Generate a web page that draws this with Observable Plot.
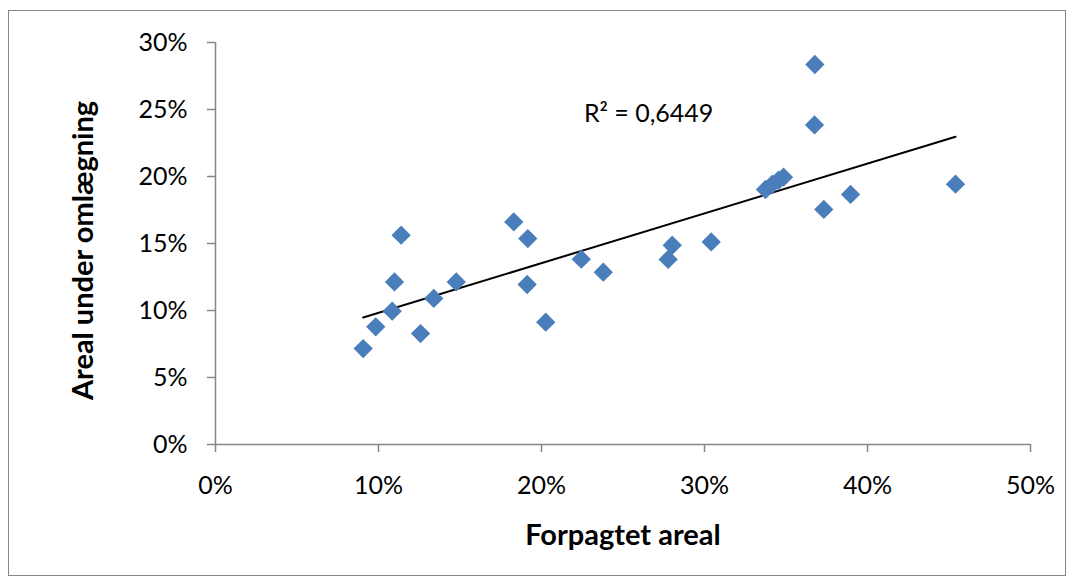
<!DOCTYPE html>
<html>
<head>
<meta charset="utf-8">
<script src="https://cdn.jsdelivr.net/npm/d3@7"></script>
<script src="https://cdn.jsdelivr.net/npm/@observablehq/plot@0.6"></script>
<style>
  html, body { margin: 0; padding: 0; background: #fff; }
  #wrap { position: relative; width: 1074px; height: 579px; overflow: hidden; }
  #border { position: absolute; left: 8px; top: 10px; width: 1058px; height: 566px; border: 1px solid #868686; box-sizing: border-box; }
  #chart { position: absolute; left: 0; top: 0; }
</style>
</head>
<body>
<div id="wrap"><div id="border"></div><div id="chart"></div></div>
<script>
// Forpagtet areal (x) and Areal under omlægning (y), as fractions
const forpagtet = [0.0906, 0.0983, 0.1084, 0.1098, 0.1139, 0.1258, 0.1339, 0.1477, 0.1830, 0.1916, 0.1912, 0.2026, 0.2244, 0.2379, 0.2777, 0.2802, 0.3041, 0.3374, 0.3417, 0.3454, 0.3485, 0.3677, 0.3675, 0.3732, 0.3896, 0.4540];
const omlaegning = [0.0716, 0.0878, 0.0995, 0.1213, 0.1562, 0.0828, 0.1090, 0.1213, 0.1661, 0.1537, 0.1194, 0.0913, 0.1383, 0.1286, 0.1381, 0.1487, 0.1512, 0.1903, 0.1943, 0.1972, 0.1995, 0.2836, 0.2385, 0.1754, 0.1866, 0.1943];
const xTicks = [0, 0.1, 0.2, 0.3, 0.4, 0.5];
const yTicks = [0, 0.05, 0.1, 0.15, 0.2, 0.25, 0.3];
const xTitle = "Forpagtet areal";
const yTitle = "Areal under omlægning";
const r2Label = ["R² = 0,6449"];
const r2Pos = {x: 0.226, y: 0.247};

const data = forpagtet.map((x, i) => ({x, y: omlaegning[i]}));
const pct = d3.format(".0%");
const axisGray = "#868686";

const chart = Plot.plot({
  width: 1074,
  height: 579,
  marginLeft: 215,
  marginRight: 44,
  marginTop: 42,
  marginBottom: 135,
  style: {fontFamily: "Lato, 'Open Sans', sans-serif", fontSize: "25px", color: "#000", background: "transparent"},
  x: {domain: [0, 0.5]},
  y: {domain: [0, 0.3]},
  marks: [
    Plot.ruleY([0], {stroke: axisGray, strokeWidth: 1.5}),
    Plot.ruleX([0], {stroke: axisGray, strokeWidth: 1.5}),
    Plot.axisX({ticks: xTicks, tickFormat: pct, tickSize: 8, tickPadding: 24, stroke: axisGray, strokeWidth: 1.5, fill: "#000", label: null, fontSize: 25}),
    Plot.axisY({ticks: yTicks, tickFormat: pct, tickSize: 8, tickPadding: 20, stroke: axisGray, strokeWidth: 1.5, fill: "#000", label: null, fontSize: 25}),
    Plot.linearRegressionY(data, {x: "x", y: "y", ci: 0, stroke: "#000", strokeWidth: 2}),
    Plot.dot(data, {x: "x", y: "y", symbol: "diamond2", r: 8.7, fill: "#4a7ebb", stroke: "none"}),
    Plot.text(r2Label, {x: () => r2Pos.x, y: () => r2Pos.y, text: d => d, textAnchor: "start", fontSize: 25, fill: "#000"}),
    Plot.text([xTitle], {frameAnchor: "bottom", dy: 91, text: d => d, fontWeight: "bold", fontSize: 29, fill: "#000", lineAnchor: "middle"}),
    Plot.text([yTitle], {frameAnchor: "left", dx: -132, dy: 7, rotate: -90, text: d => d, textAnchor: "middle", fontWeight: "bold", fontSize: 29, fill: "#000", lineAnchor: "middle"})
  ]
});
document.getElementById("chart").appendChild(chart);
</script>
</body>
</html>
